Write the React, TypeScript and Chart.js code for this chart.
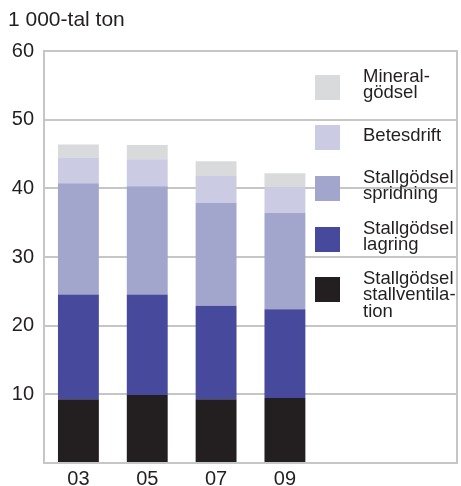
import React, { useEffect, useRef } from "react";
import { Chart, registerables } from "chart.js";

Chart.register(...registerables);

const categories = ["03", "05", "07", "09", "", ""];
const stallventilation = [9.3, 9.9, 9.3, 9.45];
const lagring = [15.25, 14.65, 13.6, 12.95];
const spridning = [16.2, 15.75, 14.95, 14.0];
const betesdrift = [3.75, 3.95, 3.95, 3.8];
const mineralgodsel = [1.9, 2.05, 2.15, 2.0];
const yTicks = [0, 10, 20, 30, 40, 50, 60];
const unitTitle = "1 000-tal ton";

const legendLines: string[][] = [
  ["Stallgödsel", "stallventila-", "tion"],
  ["Stallgödsel", "lagring"],
  ["Stallgödsel", "spridning"],
  ["Betesdrift"],
  ["Mineral-", "gödsel"],
];

const colors = ["#231f20", "#474a9c", "#a3a6cc", "#cbcbe3", "#d9dadb"];
const GRID = "#c6c6c6";
const TEXT = "#231f20";
const FONT = "'Liberation Sans', Arial, sans-serif";

const decorPlugin = {
  id: "decor",
  afterDatasetsDraw(chart: any) {
    const ctx = chart.ctx;
    const ca = chart.chartArea;
    ctx.save();
    // right border
    ctx.strokeStyle = GRID;
    ctx.lineWidth = 2;
    ctx.beginPath();
    ctx.moveTo(ca.right, ca.top - 1);
    ctx.lineTo(ca.right, ca.bottom + 1);
    ctx.stroke();
    // title
    ctx.fillStyle = TEXT;
    ctx.font = `21px ${FONT}`;
    ctx.textBaseline = "alphabetic";
    ctx.textAlign = "left";
    ctx.fillText(unitTitle, 8, 26);
    // legend (top item = top of stack)
    const boxTops = [75, 125, 176, 227, 277];
    const ds = chart.data.datasets;
    ctx.font = `18.5px ${FONT}`;
    for (let i = 0; i < ds.length; i++) {
      const idx = ds.length - 1 - i;
      const top = boxTops[i];
      ctx.fillStyle = ds[idx].backgroundColor;
      ctx.fillRect(315, top, 25, 25);
      const lines: string[] = ds[idx].legendLines;
      ctx.fillStyle = TEXT;
      const first = lines.length === 1 ? top + 16 : top + 6.5;
      lines.forEach((ln, k) => ctx.fillText(ln, 363, first + k * 16.5));
    }
    ctx.restore();
  },
};

export default function App() {
  const ref = useRef<HTMLCanvasElement>(null);
  useEffect(() => {
    document.body.style.margin = "0";
    const series = [stallventilation, lagring, spridning, betesdrift, mineralgodsel];
    const chart = new Chart(ref.current!, {
      type: "bar",
      data: {
        labels: categories,
        datasets: series.map((d, i) => ({
          label: legendLines[i].join(" "),
          legendLines: legendLines[i],
          data: d,
          backgroundColor: colors[i],
          borderWidth: 0,
          barPercentage: 0.594,
          categoryPercentage: 1,
        })) as any,
      },
      options: {
        responsive: false,
        animation: false,
        layout: { padding: { top: 51, right: 4, left: 0, bottom: 0 } },
        plugins: { legend: { display: false }, tooltip: { enabled: false }, title: { display: false } },
        scales: {
          x: {
            stacked: true,
            grid: { display: false, drawTicks: false },
            border: { display: true, color: GRID, width: 2 },
            ticks: { color: TEXT, font: { family: FONT, size: 20 }, padding: 4, maxRotation: 0, autoSkip: false },
            afterFit: (s: any) => { s.height = 23; },
          },
          y: {
            stacked: true,
            min: 0,
            max: 60,
            afterBuildTicks: (s: any) => { s.ticks = yTicks.map((v) => ({ value: v })); },
            ticks: {
              color: TEXT,
              font: { family: FONT, size: 20 },
              padding: 10,
              callback: (v: any) => (v === 0 ? "" : String(v)),
            },
            grid: { color: GRID, lineWidth: 2, drawTicks: false },
            border: { display: true, color: GRID, width: 2 },
            afterFit: (s: any) => { s.width = 44; },
          },
        },
      },
      plugins: [decorPlugin],
    });
    return () => chart.destroy();
  }, []);
  return <canvas ref={ref} width={461} height={486} style={{ display: "block" }} />;
}
